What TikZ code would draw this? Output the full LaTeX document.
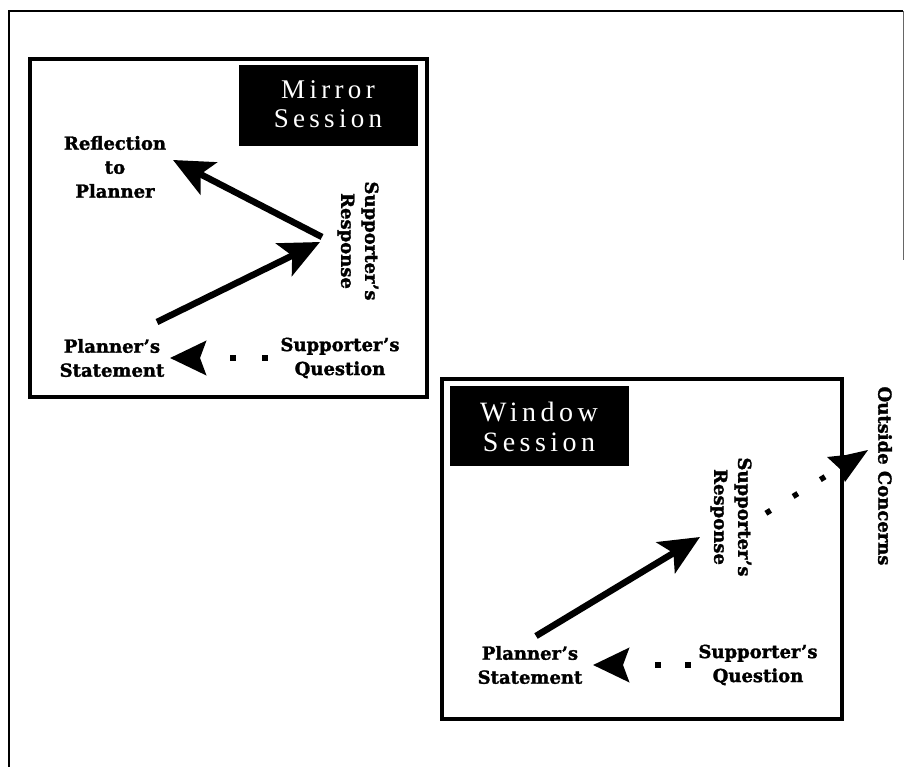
\documentclass[tikz,border=0pt]{standalone}
\usepackage{fontspec}
\setmainfont{Liberation Serif}
\newfontfamily\labfont[BoldFeatures={FakeBold=1.6}]{DejaVu Serif}
\newfontfamily\titlefont[LetterSpace=16]{Liberation Serif}
\usetikzlibrary{arrows.meta,calc}
\begin{document}
\begin{tikzpicture}[x=1pt,y=-1pt,
  lab/.style={font=\labfont\bfseries\fontsize{18}{24}\selectfont, align=center, inner sep=0pt},
  vlab/.style={lab, rotate=-90},
  ttl/.style={font=\titlefont\fontsize{27}{28.5}\selectfont, text=white, align=center, inner sep=0pt},
  session/.style={line width=3.8pt, line join=miter},
  tbox/.style={fill=black},
  bigarrow/.style={line width=6.5pt, -{Stealth[length=40pt,width=36pt,inset=9pt]}},
  dotarrow/.style={line width=5.5pt, -{Stealth[length=36pt,width=34pt,inset=6pt]}},
]
\useasboundingbox (0,0) rectangle (905,767);
\fill[white] (0,0) rectangle (905,767);
% outer frame
\draw[line width=2.5pt] (9,767) -- (9,11) -- (903,11);
\draw[line width=0.8pt, black!60] (903,11) -- (903,260);

% ---------- Mirror session ----------
\draw[session] (30,59) rectangle (427,397);
\fill[tbox] (239,65) rectangle (418,146);
\node[ttl] (mtitle) at (328,104) {Mirror\\Session};
\node[lab] (refl) at (115,167) {Reflection\\to\\Planner};
\node[vlab] (msr) at (358,241) {Supporter’s\\Response};
\node[lab] (mps) at (112,358) {Planner’s\\Statement};
\node[lab] (msq) at (340,358) {Supporter’s\\Question};
\draw[bigarrow] ($(msr)+(-36,-4)$) -- ($(refl)+(58,-7)$);
\draw[bigarrow] ($(mps)+(45,-36)$) -- ($(msr)+(-38,1)$);
\draw[dotarrow, dash pattern=on 5.5pt off 26.5pt on 5.5pt off 200pt] ($(msq)+(-72.5,0)$) -- ($(mps)+(58,0)$);

% ---------- Window session ----------
\draw[session] (442,379) rectangle (842,719);
\fill[tbox] (450,386) rectangle (629,466);
\node[ttl, font=\titlefont\fontsize{28}{30}\selectfont] (wtitle) at (539,427) {Window\\Session};
\node[vlab] (wsr) at (731,517) {Supporter’s\\Response};
\node[lab] (wps) at (530,665) {Planner’s\\Statement};
\node[lab] (wsq) at (758,665) {Supporter’s\\Question};
\node[vlab] (oc) at (885,476) {Outside Concerns};
\draw[bigarrow] ($(wps)+(6,-29)$) -- ($(wsr)+(-31,20)$);
\draw[dotarrow, dash pattern=on 5.5pt off 24.5pt on 5.5pt off 200pt] ($(wsq)+(-67.5,0)$) -- ($(wps)+(63,0)$);
\draw[line width=5.5pt, dash pattern=on 5.5pt off 26.5pt on 5.5pt off 26.5pt on 5.5pt off 200pt] ($(wsr)+(34.9,-3.7)$) -- ($(wsr)+(94.2,-40.4)$);
\fill ($(oc)+(-58,-19)$) -- ($(oc)+(-39,-21)$) -- ($(oc)+(-17,-26)$) -- ($(oc)+(-40,6)$) -- ($(oc)+(-45,-7)$) -- cycle;
\end{tikzpicture}
\end{document}
